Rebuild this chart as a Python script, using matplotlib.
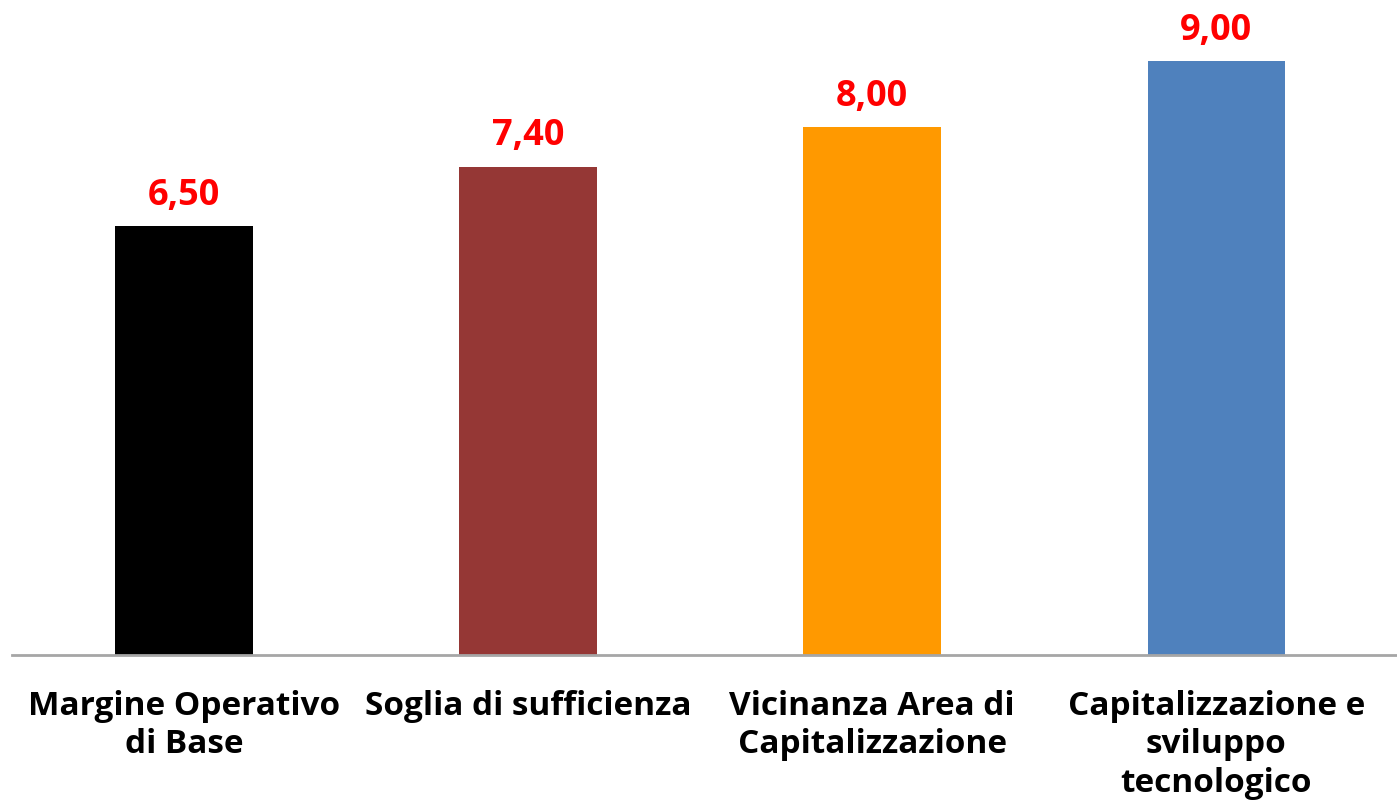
import matplotlib
matplotlib.use('Agg')
from matplotlib import pyplot as plt

categories = ['Margine Operativo\ndi Base', 'Soglia di sufficienza',
              'Vicinanza Area di\nCapitalizzazione', 'Capitalizzazione e\nsviluppo\ntecnologico']
values = [6.50, 7.40, 8.00, 9.00]
labels = ['6,50', '7,40', '8,00', '9,00']
colors = ['#000000', '#953735', '#FF9900', '#4F81BD']

plt.rcParams['font.family'] = ['Open Sans', 'DejaVu Sans']

fig = plt.figure(figsize=(13.97, 8.05), dpi=100)
ax = fig.add_axes([12 / 1397, 150 / 805, 1385 / 1397, 660 / 805])

x = list(range(len(values)))
ax.bar(x, values, width=0.4, color=colors)

for xi, v, lab in zip(x, values, labels):
    ax.annotate(lab, (xi, v), xytext=(0, 9), textcoords='offset points',
                ha='center', va='bottom', color='#FF0000',
                fontsize=26, fontweight='bold')

ax.set_xlim(-0.5, 3.525)
ax.set_ylim(0, 10)
ax.set_xticks(x)
ax.set_xticklabels(categories, fontsize=24, fontweight='bold', linespacing=1.22)
ax.tick_params(axis='x', length=0, pad=25)
ax.set_yticks([])
for s in ['top', 'right', 'left']:
    ax.spines[s].set_visible(False)
ax.spines['bottom'].set_color('#A6A6A6')
ax.spines['bottom'].set_linewidth(2)

fig.savefig('out.png', dpi=100)
